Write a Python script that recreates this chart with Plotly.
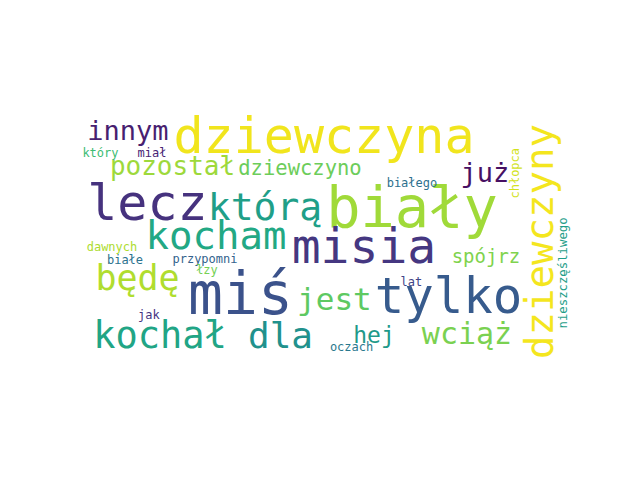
import plotly.graph_objects as go

# words of the cloud, horizontal ones
words = ["dziewczyna", "biały", "lecz", "którą", "misia", "miś", "tylko", "kocham",
         "innym", "pozostał", "dziewczyno", "już", "będę", "jest", "kochał", "dla",
         "hej", "wciąż", "spójrz", "który", "miał", "białego", "dawnych", "białe",
         "przypomni", "łzy", "jak", "lat", "oczach"]
# placement inside the 400x200 cloud image
word_x = [196.8, 267.7, 54.4, 149.2, 229.0, 129.4, 297.2, 109.7,
          38.7, 74.6, 177.4, 326.6, 46.4, 205.2, 64.5, 161.7,
          237.1, 312.1, 327.4, 16.5, 58.1, 267.7, 25.8, 36.3,
          100.8, 102.4, 55.6, 267.3, 219.0]
word_y = [19.8, 78.2, 73.8, 76.4, 108.9, 148.1, 149.1, 99.2,
          14.1, 42.7, 43.5, 48.0, 132.9, 150.0, 179.8, 180.2,
          178.2, 177.8, 114.5, 30.6, 30.6, 54.8, 106.5, 116.9,
          116.1, 125.0, 161.3, 134.7, 187.1]
word_px = [50, 57, 50, 38, 48, 58, 49, 39,
           27, 26, 20.5, 27, 35, 31, 37, 36,
           23, 30, 19, 12, 12, 12, 12, 12,
           12, 12, 12, 12, 12]
word_colors = ["#f1e51d", "#a0da39", "#46327e", "#1f9f88", "#453781", "#3b528b", "#375b8d", "#22a884",
               "#481f70", "#9dd93b", "#6ccd5a", "#471063", "#b0dd2f", "#5ec962", "#21a585", "#21918c",
               "#1f9a8a", "#7ad151", "#7fd34e", "#3dbc74", "#482475", "#2d718e", "#addc30", "#2c728e",
               "#33638d", "#75d054", "#46337f", "#414487", "#2a788e"]

# vertical words (read bottom to top)
vwords = ["dziewczyny", "chłopca", "nieszczęśliwego"]
vword_x = [370.5, 350.8, 390.3]
vword_y = [101.2, 45.6, 126.2]
vword_px = [39, 12, 12.3]
vword_colors = ["#f4e61e", "#d2e21b", "#1f9e89"]

FONT = "DejaVu Sans Mono"

fig = go.Figure()
fig.add_trace(go.Scatter(
    x=word_x, y=word_y, text=words, mode="text",
    textposition="middle center",
    textfont=dict(family=FONT, size=word_px, color=word_colors),
    cliponaxis=False, hoverinfo="skip", showlegend=False))

for w, x, y, s, c in zip(vwords, vword_x, vword_y, vword_px, vword_colors):
    fig.add_annotation(x=x, y=y, xref="x", yref="y", text=w, showarrow=False,
                       textangle=-90, xanchor="center", yanchor="middle",
                       font=dict(family=FONT, size=s, color=c))

# page body adds 8px, so the plot box is pulled up-left by that much
fig.update_layout(
    width=640, height=480, autosize=False,
    margin=dict(l=72, r=72, t=108, b=124, pad=0),
    paper_bgcolor="white", plot_bgcolor="white",
    xaxis=dict(range=[0, 400], visible=False, fixedrange=True),
    yaxis=dict(range=[200, 0], visible=False, fixedrange=True),
)
fig.write_html("out.html", config={"displayModeBar": False})
